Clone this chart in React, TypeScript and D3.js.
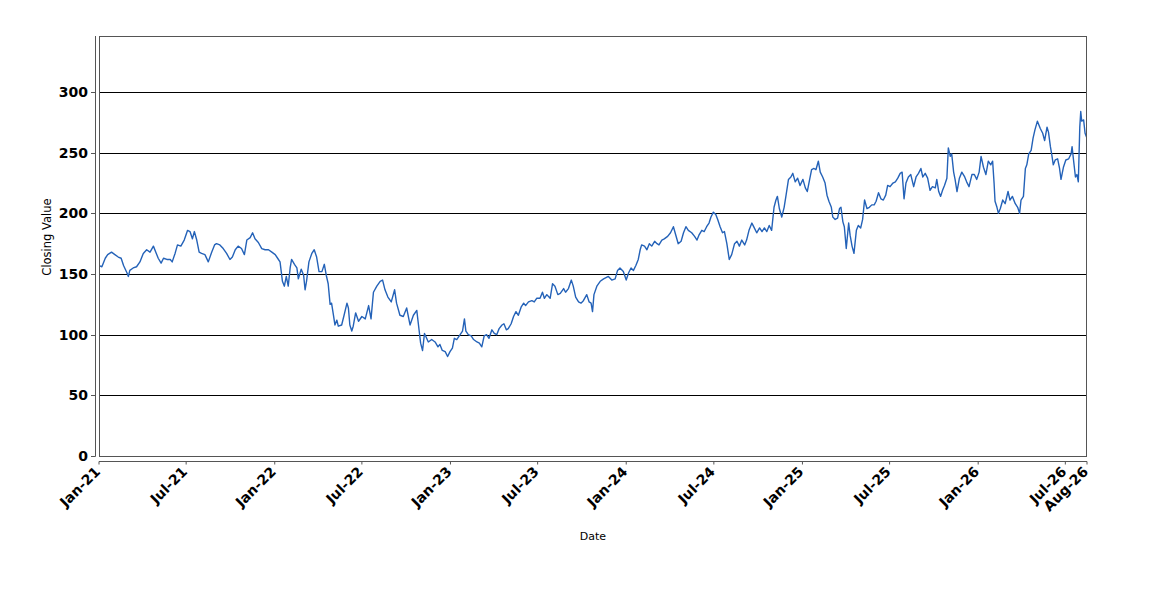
import React from "react";
import * as d3 from "d3";

// Days since 2021-01-01 and the closing values read at those days
const dayOffsets: number[] = [
  0, 6, 13, 18, 26, 33, 40, 46, 51, 58, 61, 64, 71, 78, 85, 92, 99, 106, 113, 118,
  123, 129, 134, 141, 148, 152, 158, 163, 170, 177, 184, 189, 194, 198, 203, 208, 213, 220, 227, 234,
  240, 244, 251, 258, 265, 272, 277, 283, 289, 296, 302, 307, 314, 319, 324, 331, 338, 345,
  352, 359, 366, 371, 376, 381, 385, 389, 393, 397, 400, 406, 411, 414, 420, 425, 428, 431, 436, 442,
  447, 452, 457, 463, 468, 472, 476, 480, 483, 487, 490, 494, 497, 504, 509, 515, 518, 521, 525, 528,
  533, 539, 546, 553, 560, 565, 570, 577, 584, 589, 594, 600, 607, 614, 618, 625, 632, 639, 646, 653,
  660, 665, 668, 672, 676, 684, 691, 698,
  704, 708, 713, 719, 724, 729, 734, 738, 743, 750, 755, 759, 762, 767, 773, 778, 785, 790, 795, 800,
  805, 810, 816, 821, 826, 831, 837, 841, 846, 850, 856, 861, 866, 871, 877, 882, 886, 892, 899, 904,
  909, 916, 921, 925, 930, 937, 942, 947, 953, 958, 965, 969, 975, 981, 985, 990, 996, 1001, 1006, 1013,
  1018, 1022, 1025, 1028, 1034, 1041, 1048,
  1058, 1065, 1072, 1077, 1082, 1089, 1095, 1100, 1105, 1110, 1115, 1120, 1124, 1127, 1133, 1138, 1143, 1148, 1154, 1159,
  1163, 1169, 1174, 1181, 1187, 1193, 1198, 1203, 1209, 1214, 1219, 1224, 1231, 1237, 1242, 1246, 1252, 1257, 1262, 1267,
  1271, 1276, 1281, 1285, 1290, 1295, 1299, 1304, 1309, 1314, 1320, 1325, 1330, 1335, 1341, 1345, 1350, 1356, 1361, 1366,
  1372, 1377, 1382, 1387, 1392, 1397,
  1402, 1406, 1409, 1413, 1418, 1423, 1427, 1432, 1437, 1441, 1446, 1451, 1456, 1462, 1467, 1471, 1476, 1480, 1485, 1489,
  1494, 1498, 1503, 1508, 1512, 1516, 1521, 1524, 1529, 1534, 1538, 1541, 1545, 1548, 1552, 1557, 1560, 1564, 1568, 1573,
  1577, 1582, 1586, 1590, 1595, 1600, 1605, 1610, 1614, 1619, 1624, 1629, 1634, 1638, 1643, 1649, 1654, 1659, 1664, 1668,
  1672, 1676, 1681, 1686, 1692, 1697, 1702, 1707, 1711, 1716,
  1721, 1726, 1731, 1737, 1740, 1744, 1748, 1752, 1756, 1761, 1764, 1768, 1771, 1775, 1778, 1782, 1787, 1792, 1798, 1802,
  1807, 1813, 1818, 1823, 1828, 1832, 1837, 1842, 1847, 1852, 1856, 1859, 1861, 1865, 1868, 1872, 1877, 1882, 1888, 1892,
  1897, 1903, 1908, 1912, 1915, 1920, 1924, 1927, 1931, 1936, 1940, 1944, 1949, 1955, 1960, 1964, 1969, 1972, 1976, 1979,
  1982, 1986, 1991, 1995, 1998, 2003, 2008, 2014, 2019, 2021, 2024, 2028, 2031, 2034, 2037, 2039, 2041, 2045, 2048, 2052,
];

const closes: number[] = [
  157, 156, 163, 166, 168, 166, 164, 163, 157, 151, 148, 153, 155, 156, 160, 167, 170, 168, 173, 168,
  163, 159, 163, 162, 162, 160, 167, 174, 173, 178, 186, 185, 179, 185, 178, 168, 167, 166, 160, 168,
  174, 175, 174, 171, 167, 162, 164, 170, 173, 171, 166, 178, 180, 184, 179, 176, 171, 170,
  170, 168, 166, 163, 160, 144, 140, 148, 140, 155, 162, 158, 155, 146, 154, 149, 137, 144, 160, 167,
  170, 164, 152, 152, 158, 149, 142, 125, 126, 116, 108, 112, 107, 108, 116, 126, 122, 108, 103, 107,
  118, 111, 115, 113, 124, 113, 135, 140, 144, 145, 137, 131, 127, 137, 126, 116, 115, 122, 108, 116,
  120, 103, 93, 87, 101, 94, 96, 94,
  90, 92, 87, 86, 82, 86, 89, 97, 96, 100, 103, 113, 103, 100, 99, 96, 94, 93, 90, 99,
  100, 97, 104, 101, 100, 105, 108, 109, 104, 105, 109, 115, 119, 116, 123, 126, 124, 127, 128, 127,
  130, 130, 135, 130, 133, 130, 142, 140, 133, 134, 138, 135, 138, 145, 140, 131, 127, 126, 128, 133,
  127, 126, 119, 133, 140, 144, 146,
  148, 145, 146, 153, 155, 152, 145, 151, 155, 153, 157, 162, 170, 174, 173, 170, 175, 173, 177, 175,
  174, 178, 179, 181, 184, 189, 182, 175, 177, 184, 189, 186, 184, 181, 178, 182, 186, 185, 189, 192,
  197, 201, 199, 195, 189, 184, 185, 175, 162, 166, 175, 177, 173, 178, 174, 178, 186, 192, 188, 184,
  188, 185, 188, 185, 190, 186,
  205, 211, 214, 204, 197, 205, 215, 228, 230, 233, 226, 229, 223, 228, 221, 218, 228, 236, 237, 236,
  243, 234, 230, 225, 215, 210, 205, 197, 195, 196, 204, 205, 193, 189, 171, 192, 182, 173, 167, 186,
  190, 188, 195, 211, 204, 205, 207, 207, 210, 217, 212, 211, 215, 223, 222, 225, 226, 229, 233, 234,
  212, 225, 230, 232, 222, 230, 233, 237, 230, 233,
  229, 219, 222, 221, 228, 218, 214, 219, 223, 229, 254, 247, 249, 234, 228, 218, 229, 234, 230, 226,
  222, 232, 232, 228, 234, 247, 238, 232, 243, 240, 243, 225, 210, 205, 200, 204, 211, 208, 218, 211,
  214, 208, 205, 200, 211, 214, 237, 240, 249, 252, 262, 269, 276, 270, 266, 260, 271, 267, 255, 248,
  240, 244, 245, 237, 228, 238, 244, 245, 249, 255, 244, 230, 232, 226, 271, 284, 276, 277, 266, 262,
];

const yTicks: number[] = [0, 50, 100, 150, 200, 250, 300];
const yMax = 346.2;
const startDate = new Date(2021, 0, 1);

const xTitle = "Date";
const yTitle = "Closing Value";

export default function App() {
  const W = 1150;
  const H = 600;
  const left = 99;
  const right = 1087;
  const top = 36;
  const bottom = 456;

  const data = dayOffsets.map((d, i) => ({
    date: d3.timeDay.offset(startDate, d),
    value: closes[i],
  }));
  const endDate = data[data.length - 1].date;

  const x = d3.scaleTime().domain([startDate, endDate]).range([left, right]);
  const y = d3.scaleLinear().domain([0, yMax]).range([bottom, top]);

  const monthTicks = d3.timeMonth.every(6)!.range(startDate, endDate);
  const xTicks = [...monthTicks, endDate];
  const fmt = d3.timeFormat("%b-%y");

  const line = d3
    .line<{ date: Date; value: number }>()
    .x((d) => x(d.date))
    .y((d) => y(d.value));

  const axisColor = "#555";
  const font = "'DejaVu Sans', sans-serif";

  return (
    <div style={{ position: "absolute", left: 0, top: 0 }}>
      <svg width={W} height={H} style={{ display: "block", background: "#fff" }}>
        <defs>
          <clipPath id="plotClip">
            <rect x={left} y={top} width={right - left} height={bottom - top} />
          </clipPath>
        </defs>
        {/* gridlines */}
        {yTicks
          .filter((t) => t > 0)
          .map((t) => (
            <line
              key={"g" + t}
              x1={left}
              x2={right}
              y1={Math.round(y(t)) + 0.5}
              y2={Math.round(y(t)) + 0.5}
              stroke="#000"
              strokeWidth={1}
            />
          ))}
        {/* series */}
        <path
          d={line(data) || ""}
          fill="none"
          stroke="#2462b8"
          strokeWidth={1.4}
          strokeLinejoin="round"
          clipPath="url(#plotClip)"
        />
        {/* plot outline */}
        <rect
          x={left + 0.5}
          y={top + 0.5}
          width={right - left - 1}
          height={bottom - top}
          fill="none"
          stroke={axisColor}
          strokeWidth={1}
        />
        {/* y axis */}
        <line x1={95.5} x2={95.5} y1={top} y2={bottom + 0.5} stroke={axisColor} strokeWidth={1} />
        {yTicks.map((t) => (
          <g key={"y" + t}>
            <line
              x1={91}
              x2={95.5}
              y1={Math.round(y(t)) + 0.5}
              y2={Math.round(y(t)) + 0.5}
              stroke={axisColor}
            />
            <text
              x={88}
              y={y(t)}
              dy="0.36em"
              textAnchor="end"
              fontFamily={font}
              fontWeight="bold"
              fontSize={14}
              fill="#000"
            >
              {t}
            </text>
          </g>
        ))}
        {/* x axis */}
        <line x1={left} x2={right} y1={461.5} y2={461.5} stroke={axisColor} strokeWidth={1} />
        {xTicks.map((t, i) => {
          const tx = x(t);
          return (
            <g key={"x" + i}>
              <line x1={tx} x2={tx} y1={461.5} y2={464.5} stroke={axisColor} />
              <text
                transform={`translate(${tx - 1.5},469) rotate(-45)`}
                dy="0.36em"
                textAnchor="end"
                fontFamily={font}
                fontWeight="bold"
                fontSize={14}
                fill="#000"
              >
                {fmt(t)}
              </text>
            </g>
          );
        })}
        {/* titles */}
        <text
          x={(left + right) / 2}
          y={540}
          textAnchor="middle"
          fontFamily={font}
          fontSize={11}
          fill="#000"
        >
          {xTitle}
        </text>
        <text
          transform={`translate(51,237) rotate(-90)`}
          textAnchor="middle"
          fontFamily={font}
          fontSize={11.5}
          fill="#000"
        >
          {yTitle}
        </text>
      </svg>
    </div>
  );
}
